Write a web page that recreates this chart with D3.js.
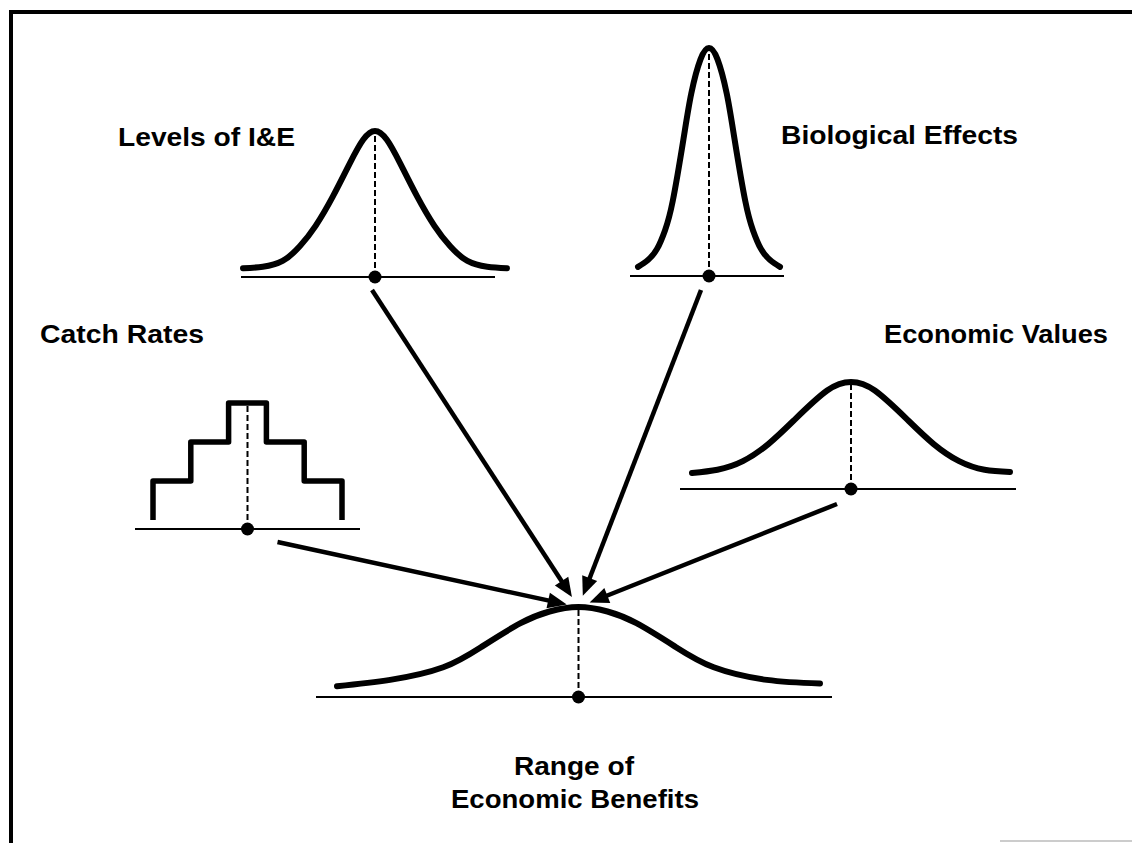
<!DOCTYPE html>
<html><head><meta charset="utf-8">
<script src="https://cdn.jsdelivr.net/npm/d3@7/dist/d3.min.js"></script>
<style>body{margin:0;background:#fff}svg{display:block}</style>
</head><body>
<svg id="chart" width="1132" height="843"></svg>
<script>
// ---------- data ----------
const labelTexts = ["Levels of I&E", "Biological Effects", "Catch Rates", "Economic Values", "Range of", "Economic Benefits"];
// bell curves: x in half-widths (-1..1), height as fraction of peak
const levelsX = [-1, -0.85, -0.7, -0.57, -0.45, -0.32, -0.19, -0.09, 0, 0.09, 0.19, 0.32, 0.45, 0.57, 0.7, 0.85, 1];
const levelsH = [0.06, 0.07, 0.11, 0.21, 0.35, 0.55, 0.78, 0.94, 1, 0.94, 0.78, 0.55, 0.35, 0.21, 0.11, 0.07, 0.06];
const bioX = [-1, -0.86, -0.73, -0.62, -0.51, -0.36, -0.25, -0.12, 0, 0.12, 0.25, 0.36, 0.51, 0.62, 0.73, 0.86, 1];
const bioH = [0.04, 0.07, 0.12, 0.2, 0.33, 0.6, 0.8, 0.95, 1, 0.95, 0.8, 0.6, 0.33, 0.2, 0.12, 0.07, 0.04];
const econX = [-1, -0.84, -0.68, -0.52, -0.36, -0.15, 0, 0.15, 0.36, 0.52, 0.68, 0.84, 1];
const econH = [0.15, 0.18, 0.26, 0.42, 0.64, 0.92, 1, 0.92, 0.64, 0.42, 0.26, 0.18, 0.16];
const rangeX = [-1, -0.78, -0.56, -0.4, -0.24, -0.12, 0, 0.12, 0.24, 0.4, 0.56, 0.78, 1];
const rangeH = [0.12, 0.19, 0.33, 0.56, 0.82, 0.95, 1, 0.95, 0.82, 0.56, 0.33, 0.19, 0.15];
// catch-rate histogram: step levels of the five bins
const catchBins = [1, 2, 3, 2, 1];

// ---------- layout ----------
const svg = d3.select("#chart");
const FONT = "'Liberation Sans', Arial, Helvetica, sans-serif";

const panels = {
  levels: {x: [243, 507], y: [277, 131], line: [241, 495]},
  bio:    {x: [638, 780], y: [276, 48],  line: [630, 784]},
  econ:   {x: [692, 1010], y: [489, 382], line: [680, 1016]},
  range:  {x: [337, 820], y: [697, 607], line: [316, 832]}
};
const curveData = {
  levels: d3.zip(levelsX, levelsH),
  bio: d3.zip(bioX, bioH),
  econ: d3.zip(econX, econH),
  range: d3.zip(rangeX, rangeH)
};

// frame
svg.append("line").attr("x1", 9).attr("x2", 1132).attr("y1", 12).attr("y2", 12)
  .attr("stroke", "#000").attr("stroke-width", 4);
svg.append("line").attr("x1", 11).attr("x2", 11).attr("y1", 10).attr("y2", 843)
  .attr("stroke", "#000").attr("stroke-width", 4);
svg.append("line").attr("x1", 1000).attr("x2", 1132).attr("y1", 841).attr("y2", 841)
  .attr("stroke", "#bbb").attr("stroke-width", 1.5);

const dots = {};
Object.entries(panels).forEach(([key, p]) => {
  const xs = d3.scaleLinear().domain([-1, 1]).range(p.x);
  const ys = d3.scaleLinear().domain([0, 1]).range(p.y);
  const g = svg.append("g");
  g.append("line").attr("x1", p.line[0]).attr("x2", p.line[1])
    .attr("y1", p.y[0]).attr("y2", p.y[0]).attr("stroke", "#000").attr("stroke-width", 2);
  g.append("line").attr("x1", xs(0)).attr("x2", xs(0))
    .attr("y1", p.y[0]).attr("y2", ys(1))
    .attr("stroke", "#000").attr("stroke-width", 2).attr("stroke-dasharray", "6,3");
  const line = d3.line().x(d => xs(d[0])).y(d => ys(d[1])).curve(d3.curveNatural);
  g.append("path").attr("d", line(curveData[key])).attr("fill", "none")
    .attr("stroke", "#000").attr("stroke-width", 6).attr("stroke-linecap", "round");
  g.append("circle").attr("cx", xs(0)).attr("cy", p.y[0]).attr("r", 6.5).attr("fill", "#000");
  dots[key] = [xs(0), p.y[0], ys(1)];
});

// catch rates step chart
{
  const xs = d3.scaleLinear().domain([0, catchBins.length]).range([153, 342]);
  const ys = d3.scaleLinear().domain([0, 3]).range([520, 403]);
  const base = 529;
  const pts = [[0, 0]];
  catchBins.forEach((h, i) => { pts.push([i, h]); pts.push([i + 1, h]); });
  pts.push([catchBins.length, 0]);
  const g = svg.append("g");
  g.append("line").attr("x1", 135).attr("x2", 360).attr("y1", base).attr("y2", base)
    .attr("stroke", "#000").attr("stroke-width", 2);
  const cx = xs(catchBins.length / 2);
  g.append("line").attr("x1", cx).attr("x2", cx).attr("y1", base).attr("y2", ys(3))
    .attr("stroke", "#000").attr("stroke-width", 2).attr("stroke-dasharray", "6,3");
  g.append("path").attr("d", d3.line().x(d => xs(d[0])).y(d => ys(d[1]))(pts))
    .attr("fill", "none").attr("stroke", "#000").attr("stroke-width", 5.5)
    .attr("stroke-linejoin", "round");
  g.append("circle").attr("cx", cx).attr("cy", base).attr("r", 6.5).attr("fill", "#000");
  dots.catch = [cx, base, ys(3)];
}

// arrows into the peak of the combined distribution
const target = [dots.range[0], dots.range[2]];
const arrows = [
  {from: "levels", off: [-3, 13]},
  {from: "bio", off: [-8, 14]},
  {from: "catch", off: [30, 13]},
  {from: "econ", off: [-14, 15]}
];
const gap = 12, headLen = 19, headHalf = 8;
arrows.forEach(a => {
  const s = [dots[a.from][0] + a.off[0], dots[a.from][1] + a.off[1]];
  const dx = target[0] - s[0], dy = target[1] - s[1];
  const L = Math.hypot(dx, dy), ux = dx / L, uy = dy / L;
  const tip = [target[0] - gap * ux, target[1] - gap * uy];
  const b = [tip[0] - headLen * ux, tip[1] - headLen * uy];
  svg.append("line").attr("x1", s[0]).attr("y1", s[1]).attr("x2", b[0] + 2 * ux).attr("y2", b[1] + 2 * uy)
    .attr("stroke", "#000").attr("stroke-width", 4.5);
  svg.append("path").attr("d", `M${tip[0]},${tip[1]}L${b[0] - uy * headHalf},${b[1] + ux * headHalf}L${b[0] + uy * headHalf},${b[1] - ux * headHalf}Z`)
    .attr("fill", "#000");
});

// labels
const labelPos = [
  {x: 118, y: 146, w: 177},
  {x: 781, y: 144, w: 237},
  {x: 40, y: 343, w: 164},
  {x: 884, y: 343, w: 224},
  {x: 514, y: 775, w: 120},
  {x: 451, y: 808, w: 248}
];
labelTexts.forEach((t, i) => {
  const p = labelPos[i];
  svg.append("text").attr("x", p.x).attr("y", p.y).text(t)
    .attr("font-family", FONT).attr("font-weight", "bold").attr("font-size", 25)
    .attr("textLength", p.w).attr("lengthAdjust", "spacingAndGlyphs").attr("fill", "#000");
});
</script>
</body></html>
